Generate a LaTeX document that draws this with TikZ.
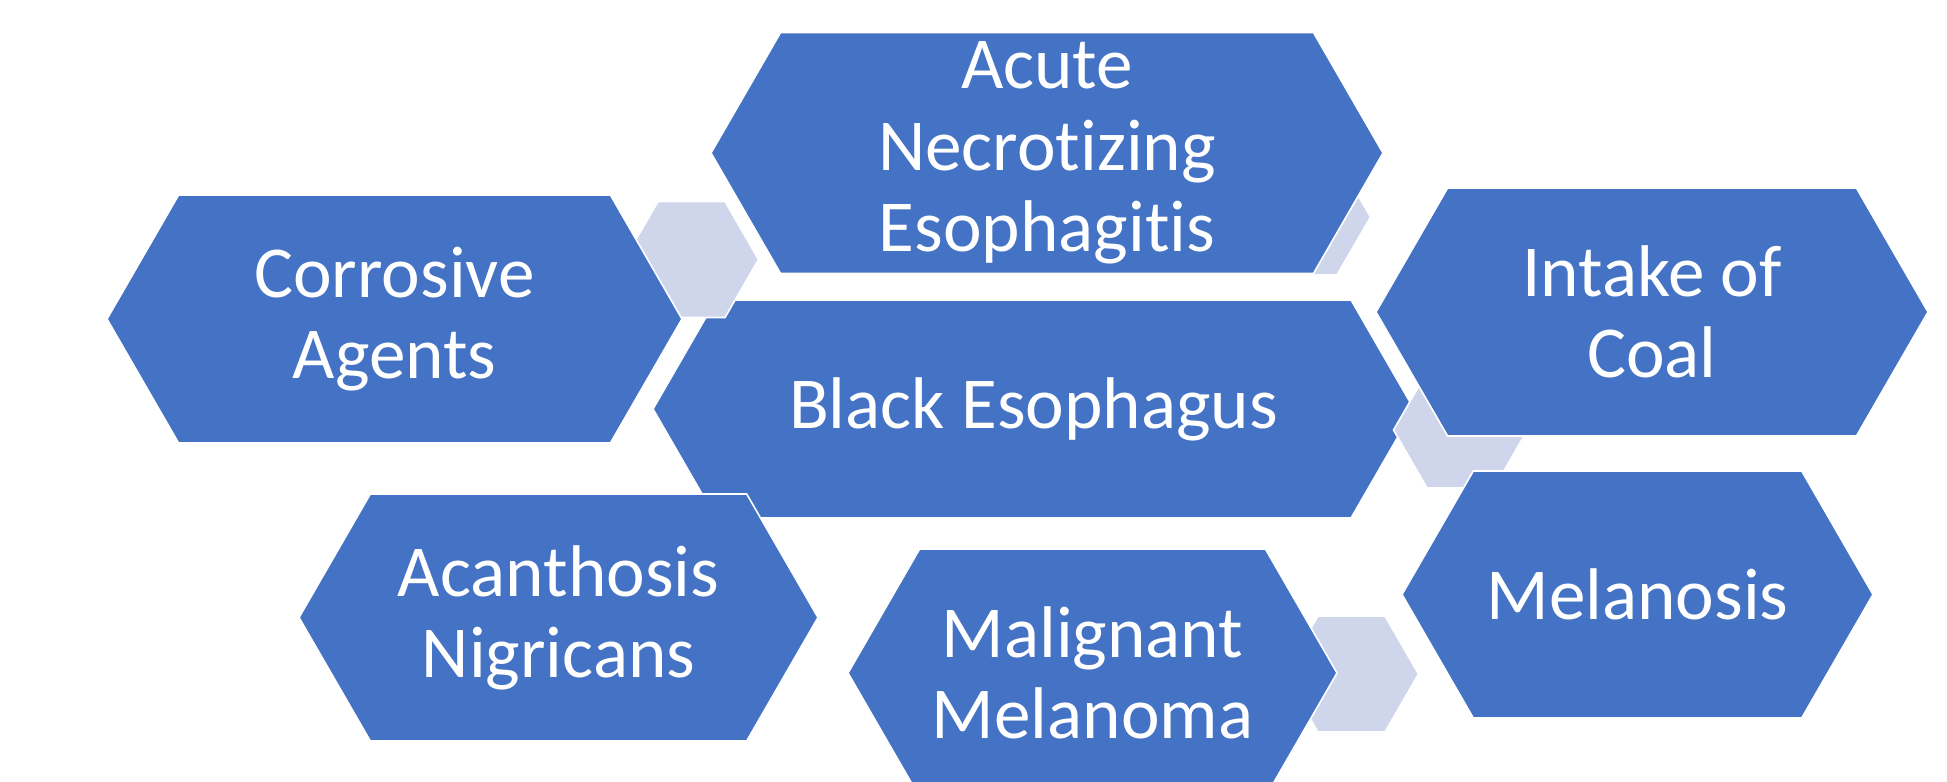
\documentclass[tikz,border=0pt]{standalone}
\usepackage{fontspec}
\setmainfont{Carlito}[Ligatures=NoCommon]
\usetikzlibrary{shapes.symbols}
\definecolor{hexblue}{HTML}{4472C4}
\definecolor{hexpale}{HTML}{CFD5EA}

\begin{document}
\begin{tikzpicture}[
x=0.5pt, y=-0.5pt,
every node/.style={align=center, inner sep=0pt, font={\fontsize{36.6}{40.6}\selectfont}}
]

% Define styles
\tikzstyle{mainhex} = [signal, signal to=west and east, signal pointer angle=120, fill=hexblue, draw=white, line width=0.8pt, text=white]
\tikzstyle{palehex} = [signal, signal to=west and east, signal pointer angle=120, fill=hexpale, draw=white, line width=0.8pt, minimum width=67pt, minimum height=58pt]

\useasboundingbox (0,0) rectangle (1947,781);

% Centre hexagon
\node (black) [mainhex, minimum width=380.5pt, minimum height=109pt] at (1033.5,409) {Black Esophagus};

% Small hexagons
\node (pale1) [palehex] at (691.5,259.5) {};
\node (pale2) [palehex] at (1303.5,217) {};
\node (pale3) [palehex] at (1460.5,430) {};
\node (pale4) [palehex] at (1351.5,674) {};

% Causes
\node (corrosive) [mainhex, minimum width=287.5pt, minimum height=124pt] at (394.5,319) {Corrosive\\Agents};

\node (acute) [mainhex, minimum width=336pt, minimum height=120.5pt] at (1047,153) {Acute\\Necrotizing\\Esophagitis};

\node (intake) [mainhex, minimum width=276pt, minimum height=124pt] at (1652,312) {Intake of\\Coal};

\node (acanthosis) [mainhex, minimum width=259.5pt, minimum height=123.5pt] at (558.5,617.5) {Acanthosis\\Nigricans};

\node (malignant) [mainhex, minimum width=244.5pt, minimum height=124pt] at (1092.5,673) {Malignant\\Melanoma};

\node (melanosis) [mainhex, minimum width=235.5pt, minimum height=123.5pt] at (1637.5,594.5) {Melanosis};

\end{tikzpicture}
\end{document}
